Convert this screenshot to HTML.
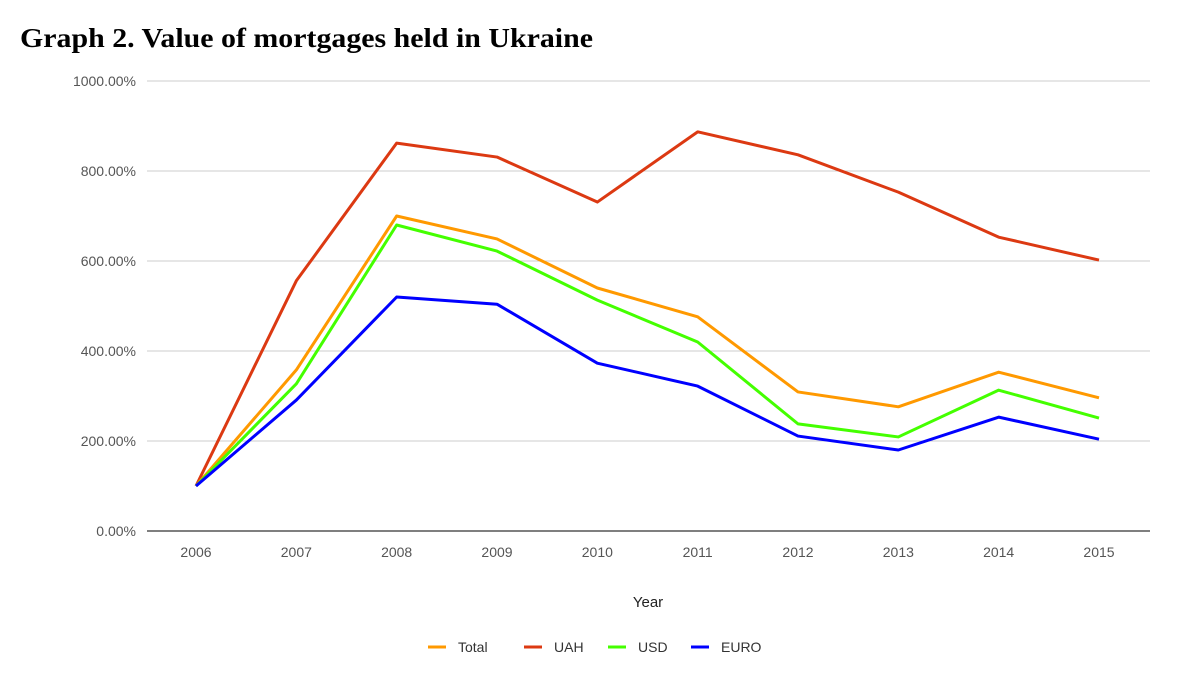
<!DOCTYPE html>
<html><head><meta charset="utf-8"><style>
body{margin:0;background:#fff;width:1200px;height:675px;overflow:hidden}
svg{display:block}
</style></head><body>
<svg width="1200" height="675" id="chart" xmlns="http://www.w3.org/2000/svg">
<text x="20" y="47" textLength="573" lengthAdjust="spacingAndGlyphs" font-family="Liberation Serif, serif" font-weight="bold" font-size="27" fill="#000">Graph 2. Value of mortgages held in Ukraine</text>
<g id="grid"></g><g id="lines"></g><g id="xlabels"></g>
<text x="648" y="607" text-anchor="middle" font-family="Liberation Sans, sans-serif" font-size="15" fill="#222">Year</text>
<g id="legend"></g>
</svg>
<script>
const years=["2006","2007","2008","2009","2010","2011","2012","2013","2014","2015"];
const yTicks=[0,200,400,600,800,1000];
const total=[100,358,700,649,540,476,309,276,353,296];
const uah=[100,556,862,831,731,887,836,753,653,602];
const usd=[100,327,680,622,513,420,238,209,313,251];
const euro=[100,291,520,504,373,322,211,180,253,204];
const seriesNames=["Total","UAH","USD","EURO"];
const NS="http://www.w3.org/2000/svg";
const x=i=>196+i*(1099-196)/(years.length-1);
const y=v=>531-v*0.45;
function mk(t,a,p){const e=document.createElementNS(NS,t);for(const k in a)e.setAttribute(k,a[k]);p.appendChild(e);return e;}
const grid=document.getElementById('grid');
yTicks.forEach(t=>{
 const l=mk('line',{x1:147,x2:1150,y1:y(t),y2:y(t),stroke:t===0?'#333':'#ccc','stroke-width':t===0?1.3:1},grid);
 
 
 const tx=mk('text',{x:136,y:y(t)+5,'text-anchor':'end','font-family':'Liberation Sans, sans-serif','font-size':14,fill:'#555'},grid);
 tx.textContent=t.toFixed(2)+'%';
 
 
});
const xl=document.getElementById('xlabels');
years.forEach((yr,i)=>{
 const tx=mk('text',{x:x(i),y:557,'text-anchor':'middle','font-family':'Liberation Sans, sans-serif','font-size':14,fill:'#555'},xl);
 tx.textContent=yr;
 
 
});
const data=[total,uah,usd,euro];
const colors=["#ff9900","#dc3912","#44ff00","#0000ff"];
const lines=document.getElementById('lines');
[1,0,2,3].forEach(s=>{
 const p=mk('polyline',{points:data[s].map((v,i)=>x(i)+','+y(v)).join(' '),fill:'none',stroke:colors[s],'stroke-width':3,'stroke-linejoin':'round'},lines);
 
 
});
const lg=document.getElementById('legend');
const lx=[428,524,608,691];
seriesNames.forEach((n,s)=>{
 const g=mk('g',{},lg);
 
 
 mk('line',{x1:lx[s],x2:lx[s]+18,y1:647,y2:647,stroke:colors[s],'stroke-width':3},g);
 const t=mk('text',{x:lx[s]+30,y:652,'font-family':'Liberation Sans, sans-serif','font-size':14,fill:'#333'},g);
 t.textContent=n;
});
</script>
</body></html>
